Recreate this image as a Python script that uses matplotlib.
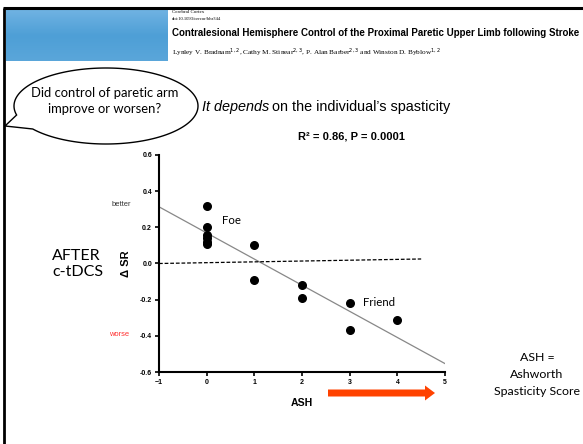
import numpy as np
import matplotlib
matplotlib.use("Agg")
import matplotlib.pyplot as plt
from matplotlib.patches import Polygon, FancyArrow

# data
ash_x = [0, 0, 0, 0, 0, 0, 1, 1, 2, 2, 3, 3, 4]
delta_sr = [0.32, 0.20, 0.16, 0.14, 0.12, 0.11, 0.10, -0.09, -0.12, -0.19, -0.22, -0.37, -0.31]
fit_slope = -0.1445
fit_intercept = 0.169
zero_line_x = [-1, 4.5]
zero_line_y = [0.0, 0.025]
x_ticks = [-1, 0, 1, 2, 3, 4, 5]
y_ticks = [-0.6, -0.4, -0.2, 0.0, 0.2, 0.4, 0.6]

W, H = 583, 444
fig = plt.figure(figsize=(W / 100, H / 100), dpi=100)
fig.patch.set_facecolor("white")

# overlay in pixel coordinates for the slide decorations
ov = fig.add_axes([0, 0, 1, 1], zorder=0)
ov.set_xlim(0, W)
ov.set_ylim(H, 0)
ov.axis("off")

# slide frame
ov.plot([3, W], [8.5, 8.5], color="black", lw=2.2, solid_capstyle="butt")
ov.plot([4.3, 4.3], [8, H], color="black", lw=2.0, solid_capstyle="butt")

# blue banner of the paper header
grad = np.linspace(0, 1, 50)[:, None] * np.ones((1, 160))
ov.imshow(grad, extent=[6, 168, 61, 10], cmap=matplotlib.colors.LinearSegmentedColormap.from_list(
    "sky", ["#6fb2e2", "#4e9fd6", "#5aa6da"]), aspect="auto", zorder=1)

sans = "Liberation Sans"
serif = "Liberation Serif"
gill = "Lato"

fig.canvas.draw()
r = fig.canvas.get_renderer()

ov.text(172, 12, "Cerebral Cortex", fontsize=3.6, family=serif, va="center")
ov.text(172, 19, "doi:10.1093/cercor/bhr344", fontsize=3.3, family=serif, va="center")
title = ov.text(172, 33, "Contralesional Hemisphere Control of the Proximal Paretic Upper Limb following Stroke",
                fontsize=8.6, family=sans, weight="bold", va="center")
tw = title.get_window_extent(r).width
title.set_fontsize(8.6 * 409 / tw)
ov.text(172, 53, r"Lynley V. Bradnam$^{1,2}$, Cathy M. Stinear$^{2,3}$, P. Alan Barber$^{2,3}$ "
        r"and Winston D. Byblow$^{1,2}$", fontsize=5.2, family=serif, va="center")

# speech bubble
cx, cy, a, b = 106, 106, 92, 38
t1, t2 = np.pi - 0.239, np.pi - 0.65
t = np.linspace(t1, t2 + 2 * np.pi, 200)
pts = np.column_stack([cx + a * np.cos(t), cy + b * np.sin(t)])
pts = np.vstack([pts, [[5, 126]]])
ov.add_patch(Polygon(pts, closed=True, facecolor="white", edgecolor="black", lw=1.0, zorder=3))
ov.text(cx - 1, 93, "Did control of paretic arm", fontsize=9.4, family=gill, ha="center", va="center", zorder=4)
ov.text(cx - 1, 109, "improve or worsen?", fontsize=9.4, family=gill, ha="center", va="center", zorder=4)

# "It depends on the individual's spasticity"
t_it = ov.text(202, 107, "It depends", fontsize=10.4, family=sans, style="italic", va="center")
bb = t_it.get_window_extent(r)
ov.text(bb.x1 + 3, 107, "on the individual\u2019s spasticity", fontsize=10.4, family=sans, va="center")

ov.text(351, 136, "R\u00b2 = 0.86, P = 0.0001", fontsize=8.0, family=sans, weight="bold",
        ha="center", va="center")

ov.text(52, 264, "AFTER\nc-tDCS", fontsize=11.5, family=gill, ha="left", va="center", linespacing=1.25)
ov.text(131, 204, "better", fontsize=5.4, family=sans, color="#333333", ha="right", va="center")
ov.text(129, 334, "worse", fontsize=5.4, family=sans, color="#ff3030", ha="right", va="center")

ov.text(537, 357, "ASH =", fontsize=8.9, family=gill, ha="center", va="center")
ov.text(537, 374, "Ashworth", fontsize=8.9, family=gill, ha="center", va="center")
ov.text(537, 391, "Spasticity Score", fontsize=8.9, family=gill, ha="center", va="center")

ov.add_patch(FancyArrow(328, 393, 107, 0, width=7, head_width=15, head_length=10,
                        length_includes_head=True, color="#ff4200", lw=0, zorder=3))

# main chart
ax = fig.add_axes([159 / W, 1 - 372 / H, (445 - 159) / W, (372 - 155) / H], zorder=1)
ax.set_facecolor("none")
ax.set_xlim(-1, 5)
ax.set_ylim(-0.6, 0.6)
for s in ["top", "right"]:
    ax.spines[s].set_visible(False)
for s in ["left", "bottom"]:
    ax.spines[s].set_linewidth(1.5)

fx = np.array([-1, 5])
ax.plot(fx, fit_intercept + fit_slope * fx, color="#888888", lw=0.9, zorder=2)
ax.plot(zero_line_x, zero_line_y, color="black", lw=0.9, ls=(0, (3, 1.5)), zorder=2)
ax.scatter(ash_x, delta_sr, s=30, color="black", zorder=3, clip_on=False)

ax.text(0.33, 0.24, "Foe", fontsize=8.2, family=gill, va="center")
ax.text(3.28, -0.215, "Friend", fontsize=8.2, family=gill, va="center")

ax.set_xticks(x_ticks)
ax.set_yticks(y_ticks)
ax.set_yticklabels([f"{v:.1f}" for v in y_ticks])
ax.tick_params(direction="out", length=3, width=1.2, labelsize=5, pad=2)
for lab in ax.get_xticklabels() + ax.get_yticklabels():
    lab.set_fontweight("bold")
    lab.set_family(sans)

ax.set_xlabel("ASH", fontsize=7.6, family=sans, weight="bold", labelpad=9)
ax.set_ylabel("\u0394 SR", fontsize=8, family=sans, weight="bold", labelpad=6)

fig.savefig("out.png", dpi=100)
